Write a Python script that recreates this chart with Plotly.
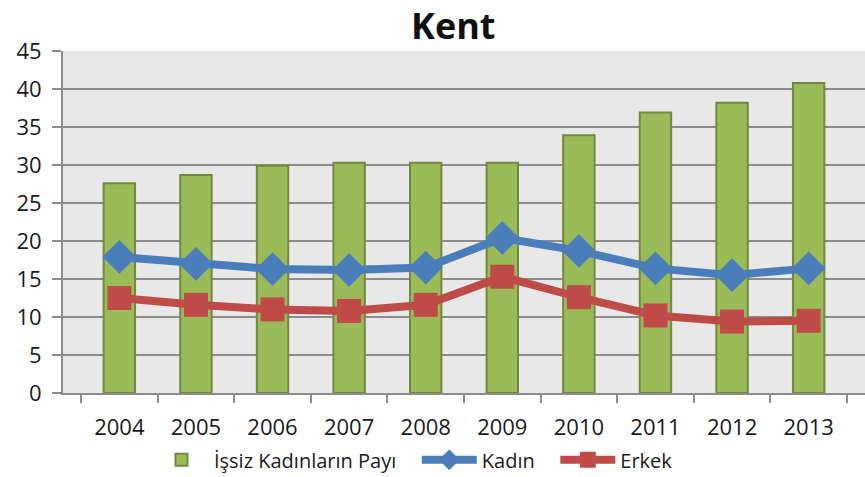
import plotly.graph_objects as go

years = ["2004", "2005", "2006", "2007", "2008", "2009", "2010", "2011", "2012", "2013"]
issiz_kadin_payi = [27.6, 28.7, 29.9, 30.3, 30.3, 30.3, 33.9, 36.9, 38.2, 40.8]
kadin = [17.9, 17.0, 16.3, 16.2, 16.5, 20.4, 18.7, 16.4, 15.5, 16.4]
erkek = [12.5, 11.6, 11.0, 10.8, 11.6, 15.3, 12.6, 10.2, 9.4, 9.5]

font_name = "Open Sans"
pad = "\u00a0" * 3  # a bit of extra room between legend entries

fig = go.Figure()
fig.add_trace(go.Bar(x=years, y=issiz_kadin_payi, name="İşsiz Kadınların Payı" + pad,
                     marker=dict(color="#9bbb59", line=dict(color="#71893f", width=2)),
                     width=0.41))
fig.add_trace(go.Scatter(x=years, y=kadin, name="Kadın" + pad, mode="lines+markers",
                         line=dict(color="#4a7ebb", width=8),
                         marker=dict(symbol="diamond", size=26, color="#4a7ebb")))
fig.add_trace(go.Scatter(x=years, y=erkek, name="Erkek", mode="lines+markers",
                         line=dict(color="#be4b48", width=8),
                         marker=dict(symbol="square", size=24, color="#be4b48")))

fig.update_layout(
    width=865, height=477,
    margin=dict(l=63, r=0, t=51, b=84, autoexpand=False),
    paper_bgcolor="white",
    plot_bgcolor="#e8e8e8",
    font=dict(family=font_name, size=21, color="#1a1a1a"),
    title=dict(text="<b>Kent</b>", x=0.524, xanchor="center", y=0.944, yanchor="middle",
               font=dict(size=36, color="#111111")),
    legend=dict(orientation="h", x=0.437, xanchor="center", yref="container", y=0.036,
                yanchor="middle", font=dict(size=20), traceorder="normal",
                itemwidth=55, tracegroupgap=0),
    bargap=0.59,
    showlegend=True,
)
fig.update_xaxes(showgrid=False, showline=True, linecolor="#8c8c8c", linewidth=2,
                 ticks="outside", tickson="boundaries", ticklen=8, tickcolor="#8c8c8c",
                 tickwidth=2, ticklabelstandoff=14, tickfont=dict(size=22))
fig.update_yaxes(range=[0, 45], dtick=5, showgrid=True, gridcolor="#8c8c8c", gridwidth=2,
                 showline=True, linecolor="#8c8c8c", linewidth=2, ticks="outside",
                 ticklen=9, tickcolor="#8c8c8c", tickwidth=2, zeroline=False,
                 ticklabelstandoff=6, tickfont=dict(size=22))

# page has a default 8px body margin, drop it so the figure sits at 0,0
fig.write_html("out.html", config={"displayModeBar": False},
               post_script="document.body.style.margin='0';")
